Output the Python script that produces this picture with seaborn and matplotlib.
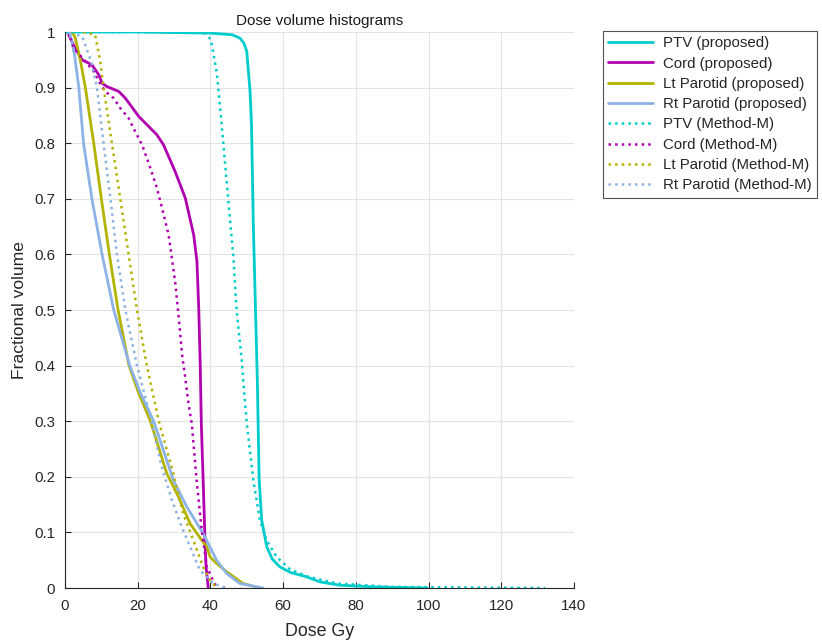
import numpy as np
import pandas as pd
import seaborn as sns
import matplotlib.pyplot as plt
from matplotlib.ticker import FuncFormatter

# --- data (dose in Gy, fractional volume) ---
ptv_prop_x = [0, 20, 40, 46, 48.1, 49.2, 50, 50.9, 51.3, 51.8, 52.4, 52.9, 53.4, 54.1, 55.5, 57, 59.1, 62, 66.5, 70.1, 75.6, 85, 99.6]
ptv_prop_y = [1.0, 1.0, 0.998, 0.995, 0.989, 0.98, 0.965, 0.893, 0.833, 0.653, 0.5, 0.374, 0.194, 0.122, 0.074, 0.052, 0.038, 0.028, 0.02, 0.011, 0.005, 0.002, 0.0]

cord_prop_x = [1.0, 2.8, 4.7, 7.4, 9.3, 10.2, 11.5, 14.8, 16.6, 20.3, 25.3, 27.1, 30.3, 33.1, 35.4, 36.3, 36.8, 37.2, 37.5, 38.0, 38.5, 38.8, 39.4]
cord_prop_y = [0.995, 0.971, 0.95, 0.941, 0.923, 0.908, 0.902, 0.893, 0.881, 0.848, 0.815, 0.797, 0.749, 0.701, 0.635, 0.587, 0.5, 0.4, 0.294, 0.194, 0.086, 0.038, 0.0]

lt_prop_x = [2.0, 2.8, 4.2, 5.6, 7.9, 10.0, 12.2, 14.6, 17.6, 20.3, 23.5, 28.0, 31.2, 34.4, 37.6, 39.0, 39.9, 41.7, 44.5, 49.0, 53.6]
lt_prop_y = [1.0, 0.99, 0.95, 0.9, 0.8, 0.7, 0.6, 0.5, 0.4, 0.35, 0.3, 0.206, 0.164, 0.116, 0.086, 0.074, 0.056, 0.044, 0.029, 0.008, 0.0]

rt_prop_x = [1.3, 2.6, 3.8, 5.1, 7.4, 10.2, 13.4, 17.8, 20.8, 24.4, 29.8, 33.5, 38.0, 41.7, 44.5, 48.1, 54.5]
rt_prop_y = [1.0, 0.96, 0.9, 0.8, 0.7, 0.6, 0.5, 0.4, 0.35, 0.3, 0.194, 0.146, 0.098, 0.05, 0.026, 0.008, 0.0]

ptv_mm_x = [0, 20, 38, 40.1, 41.7, 42.6, 43.5, 44.3, 44.9, 46.3, 47.2, 48.6, 49.3, 50.0, 51.8, 53.6, 55.5, 58.2, 62, 67, 75, 90, 110, 132]
ptv_mm_y = [1.0, 1.0, 1.0, 0.987, 0.929, 0.869, 0.803, 0.743, 0.698, 0.596, 0.5, 0.41, 0.35, 0.296, 0.194, 0.122, 0.085, 0.056, 0.033, 0.02, 0.008, 0.002, 0.001, 0.0]

cord_mm_x = [1.5, 2.4, 5.6, 7.9, 9.3, 11.1, 13.4, 15.2, 17.5, 19.3, 21.2, 23.5, 25.3, 26.7, 28.5, 29.4, 30.3, 31.3, 32.2, 33.1, 34.0, 34.9, 36.2, 37.6, 39.0, 41.7]
cord_mm_y = [0.989, 0.971, 0.947, 0.929, 0.911, 0.893, 0.881, 0.863, 0.845, 0.821, 0.797, 0.755, 0.719, 0.683, 0.635, 0.593, 0.551, 0.485, 0.42, 0.377, 0.33, 0.294, 0.194, 0.104, 0.038, 0.0]

lt_mm_x = [5.0, 8.3, 9.7, 10.6, 12.9, 15.2, 17.5, 19.8, 22.5, 25.8, 29.8, 32.5, 35.3, 38.0, 39.9, 41.7]
lt_mm_y = [1.0, 0.995, 0.947, 0.9, 0.8, 0.7, 0.6, 0.5, 0.4, 0.3, 0.206, 0.134, 0.086, 0.038, 0.014, 0.0]

rt_mm_x = [3.3, 4.7, 7.2, 8.8, 10.6, 12.5, 14.3, 16.6, 19.8, 23.8, 26.5, 29.3, 32.1, 34.8, 37.1, 40.8, 44.5]
rt_mm_y = [0.995, 0.992, 0.947, 0.9, 0.8, 0.7, 0.6, 0.5, 0.4, 0.3, 0.22, 0.16, 0.11, 0.068, 0.032, 0.008, 0.0]

series = [
    ("PTV (proposed)", ptv_prop_x, ptv_prop_y, "#00CCCC", "-"),
    ("Cord (proposed)", cord_prop_x, cord_prop_y, "#B000B0", "-"),
    ("Lt Parotid (proposed)", lt_prop_x, lt_prop_y, "#B3B300", "-"),
    ("Rt Parotid (proposed)", rt_prop_x, rt_prop_y, "#8CB2E6", "-"),
    ("PTV (Method-M)", ptv_mm_x, ptv_mm_y, "#00CCCC", ":"),
    ("Cord (Method-M)", cord_mm_x, cord_mm_y, "#B000B0", ":"),
    ("Lt Parotid (Method-M)", lt_mm_x, lt_mm_y, "#B3B300", ":"),
    ("Rt Parotid (Method-M)", rt_mm_x, rt_mm_y, "#8CB2E6", ":"),
]

sns.set_theme(style="whitegrid")
plt.rcParams["font.family"] = ["Liberation Sans", "DejaVu Sans"]

fig = plt.figure(figsize=(8.22, 6.44), dpi=100)
ax = fig.add_axes([65 / 822, 56 / 644, 509 / 822, 556 / 644])

for name, xs, ys, col, ls in series:
    df = pd.DataFrame({"dose": xs, "vol": ys})
    sns.lineplot(data=df, x="dose", y="vol", ax=ax, color=col, linestyle=ls,
                 linewidth=2 if ls == "-" else 1.8, label=name, sort=False)

ax.set_xlim(0, 140)
ax.set_ylim(0, 1)
ax.set_xticks(np.arange(0, 141, 20))
ax.set_yticks(np.arange(0, 1.01, 0.1))
ax.yaxis.set_major_formatter(FuncFormatter(lambda v, p: f"{v:.1f}".rstrip("0").rstrip(".") if v not in (0, 1) else f"{int(v)}"))
ax.grid(True, color="#e3e3e3", linewidth=0.8)
for s in ["top", "right"]:
    ax.spines[s].set_visible(False)
for s in ["left", "bottom"]:
    ax.spines[s].set_color("#262626")
    ax.spines[s].set_linewidth(0.8)
ax.tick_params(direction="in", length=4, width=0.8, color="#262626",
               labelsize=10.8, labelcolor="#262626", left=True, bottom=True)
ax.tick_params(axis="x", pad=8)
ax.tick_params(axis="y", pad=7)
ax.set_xlabel("Dose Gy", fontsize=12.8, color="#262626", labelpad=7)
ax.set_ylabel("Fractional volume", fontsize=12.6, color="#262626", labelpad=5)
ax.set_title("Dose volume histograms", fontsize=11, color="#1a1a1a", pad=5)

leg = ax.legend(loc="upper left", bbox_to_anchor=(603 / 822, 1 - 31 / 644),
                bbox_transform=fig.transFigure, fontsize=10.8, frameon=True,
                fancybox=False, handlelength=2.95, borderpad=0.35, labelspacing=0.42,
                handletextpad=0.7, borderaxespad=0)
leg.get_frame().set_edgecolor("#262626")
leg.get_frame().set_linewidth(0.8)

fig.savefig("out.png", dpi=100, facecolor="white")
